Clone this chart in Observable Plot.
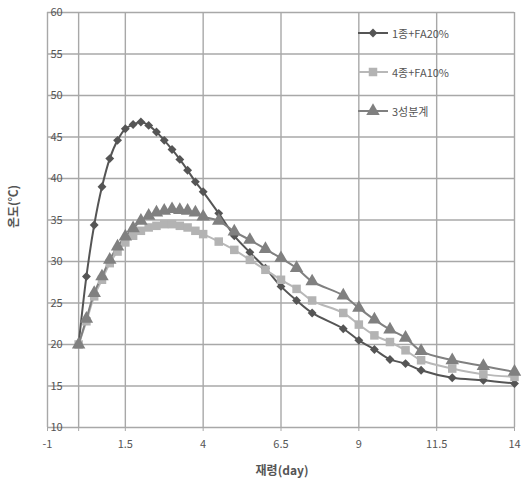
<!DOCTYPE html>
<html><head><meta charset="utf-8">
<script src="https://cdn.jsdelivr.net/npm/d3@7"></script>
<script src="https://cdn.jsdelivr.net/npm/@observablehq/plot@0.6"></script>
<style>
body{margin:0;background:#fff;font-family:"Noto Sans CJK KR","Noto Sans",sans-serif;}
#wrap{position:relative;width:527px;height:496px;}
#ylab{position:absolute;left:-18px;top:198px;width:60px;text-align:center;transform:rotate(-90deg);font-size:12px;font-weight:bold;color:#555;}
#xlab{position:absolute;left:232px;top:461px;width:100px;text-align:center;font-size:12px;font-weight:bold;color:#555;}
#legend{position:absolute;left:358px;top:25px;font-size:11px;color:#555;}
.row{height:39px;display:flex;align-items:flex-start;}
.row svg{margin-right:3px;}
.row span{line-height:16px;}
</style></head><body>
<div id="wrap"><div id="chart"></div>
<div id="ylab">온도(℃)</div>
<div id="xlab">재령(day)</div>
<div id="legend"></div>
</div>
<script>
const days = [0,0.25,0.5,0.75,1,1.25,1.5,1.75,2,2.25,2.5,2.75,3,3.25,3.5,3.75,4,4.5,5,5.5,6,6.5,7,7.5,8.5,9,9.5,10,10.5,11,12,13,14];
const seriesNames = ["1종+FA20%","4종+FA10%","3성분계"];
const s1 = [20,28.2,34.4,39.0,42.4,44.6,46.0,46.5,46.8,46.4,45.6,44.6,43.5,42.3,41.0,39.6,38.4,35.8,33.1,31.1,29.2,27.0,25.3,23.8,21.9,20.5,19.4,18.2,17.7,16.9,16.0,15.7,15.3];
const s2 = [20,22.8,25.8,27.8,29.8,31.2,32.3,33.1,33.7,34.1,34.3,34.5,34.5,34.3,34.1,33.7,33.3,32.4,31.4,30.2,29.0,27.8,26.7,25.3,23.8,22.4,21.1,20.3,19.3,18.1,17.1,16.4,16.1];
const s3 = [20,23.1,26.2,28.2,30.2,31.8,33.0,34.0,34.9,35.5,35.9,36.1,36.3,36.2,36.1,35.9,35.4,34.9,33.6,32.6,31.5,30.4,29.2,27.6,25.9,24.4,23.0,21.8,20.8,19.2,18.1,17.4,16.7];
const xTicks = [-1,1.5,4,6.5,9,11.5,14];
const yTicks = [10,15,20,25,30,35,40,45,50,55,60];

const styles = [
  {stroke:"#555555", fill:"#555555", symbol:"diamond2", r:4},
  {stroke:"#b8b8b8", fill:"#b3b3b3", symbol:"square", r:4.8},
  {stroke:"#808080", fill:"#808080", symbol:"triangle", r:5}
];
const allSeries = [s1,s2,s3];
const tables = allSeries.map((s,i)=> days.map((d,j)=>({day:d, temp:s[j], name:seriesNames[i]})));

const marks = [
  Plot.ruleY(yTicks, {y:d=>d, x1:-1, x2:14, stroke:"#a8a8a8", strokeWidth:1.4}),
  Plot.ruleX(xTicks.concat([0]), {x:d=>d, y1:10, y2:60, stroke:"#a8a8a8", strokeWidth:1.4}),
  Plot.axisX({ticks:[-1,0,1.5,4,6.5,9,11.5,14], tickSize:4, tickPadding:9, stroke:"#a8a8a8", tickFormat:d=>d===0?"":String(d), fontSize:11, fill:"#555", label:null}),
  Plot.text(yTicks, {x:()=> -1, y:d=>d, text:d=>String(d), textAnchor:"start", dx:3, fontSize:11, fill:"#555"})
];
tables.forEach((t,i)=>{
  const st = styles[i];
  marks.push(Plot.line(t, {x:"day", y:"temp", stroke:st.stroke, strokeWidth:2, curve:"catmull-rom"}));
});
tables.forEach((t,i)=>{
  const st = styles[i];
  marks.push(Plot.dot(t, {x:"day", y:"temp", fill:st.fill, stroke:"none", symbol:st.symbol, r:st.r}));
});

const chart = Plot.plot({
  width:527, height:496,
  marginLeft:47, marginRight:13, marginTop:12, marginBottom:69,
  style:{fontFamily:'"Noto Sans CJK KR","Noto Sans",sans-serif', background:"#fff"},
  x:{domain:[-1,14]},
  y:{domain:[10,60], axis:null},
  marks
});
document.getElementById("chart").appendChild(chart);

// legend
const leg = document.getElementById("legend");
const symMap = {diamond2:d3.symbolDiamond2, square:d3.symbolSquare, triangle:d3.symbolTriangle};
seriesNames.forEach((n,i)=>{
  const st = styles[i];
  const row = document.createElement("div");
  row.className="row";
  const svg = d3.create("svg").attr("width",31).attr("height",16);
  svg.append("line").attr("x1",0).attr("x2",30).attr("y1",8).attr("y2",8).attr("stroke",st.stroke).attr("stroke-width",2);
  svg.append("path").attr("transform","translate(15,8)").attr("d", d3.symbol(symMap[st.symbol], Math.PI*st.r*st.r)()).attr("fill",st.fill);
  row.appendChild(svg.node());
  const sp = document.createElement("span"); sp.textContent = n; row.appendChild(sp);
  leg.appendChild(row);
});
</script>
</body></html>
